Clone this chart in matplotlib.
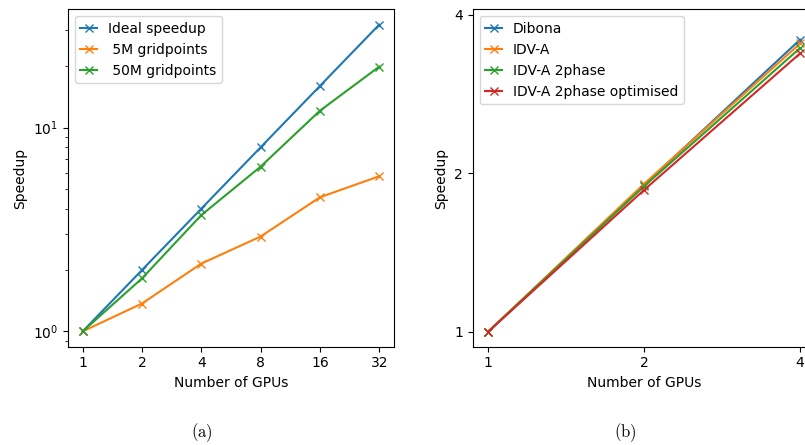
import matplotlib
matplotlib.use('Agg')
import matplotlib.pyplot as plt
from matplotlib.ticker import NullLocator, ScalarFormatter, FixedLocator

# (a) scaling with number of GPUs
gpus_a = [1, 2, 4, 8, 16, 32]
ideal = [1, 2, 4, 8, 16, 32]
grid_5m = [1, 1.37, 2.15, 2.92, 4.55, 5.77]
grid_50m = [1, 1.82, 3.72, 6.43, 12.1, 19.9]

# (b) strong scaling, different codes
gpus_b = [1, 2, 4]
dibona = [1, 1.90, 3.59]
idva = [1, 1.91, 3.53]
idva_2phase = [1, 1.89, 3.46]
idva_2phase_opt = [1, 1.86, 3.38]

fig = plt.figure(figsize=(8.05, 4.45), dpi=100)

# left panel
ax1 = fig.add_axes([0.0843, 0.2209, 0.4052, 0.7582])
ax1.plot(gpus_a, ideal, marker='x', label='Ideal speedup')
ax1.plot(gpus_a, grid_5m, marker='x', label=' 5M gridpoints')
ax1.plot(gpus_a, grid_50m, marker='x', label=' 50M gridpoints')
ax1.set_xscale('log', base=2)
ax1.set_yscale('log')
ax1.xaxis.set_major_locator(FixedLocator(gpus_a))
ax1.xaxis.set_major_formatter(ScalarFormatter())
ax1.xaxis.set_minor_locator(NullLocator())
ax1.set_xlabel('Number of GPUs')
ax1.set_ylabel('Speedup')
ax1.legend(loc='upper left', handlelength=1.2)

# right panel (cut off at the figure edge like the original)
ax2 = fig.add_axes([0.5872, 0.2209, 0.426, 0.7582])
ax2.plot(gpus_b, dibona, marker='x', label='Dibona')
ax2.plot(gpus_b, idva, marker='x', label='IDV-A')
ax2.plot(gpus_b, idva_2phase, marker='x', label='IDV-A 2phase')
ax2.plot(gpus_b, idva_2phase_opt, marker='x', label='IDV-A 2phase optimised')
ax2.set_xscale('log', base=2)
ax2.set_yscale('log', base=2)
ax2.xaxis.set_major_locator(FixedLocator(gpus_b))
ax2.xaxis.set_major_formatter(ScalarFormatter())
ax2.xaxis.set_minor_locator(NullLocator())
ax2.yaxis.set_major_locator(FixedLocator([1, 2, 4]))
ax2.yaxis.set_major_formatter(ScalarFormatter())
ax2.yaxis.set_minor_locator(NullLocator())
ax2.set_xlim(2 ** -0.1, 2 ** 2.1)
ax2.set_ylim(0.936, 4.10)
ax2.set_xlabel('Number of GPUs')
ax2.set_ylabel('Speedup')
ax2.legend(loc='upper left', handlelength=1.2)

fig.text(202 / 805, 1 - 433 / 445, r'$\mathrm{(a)}$', math_fontfamily='cm',
         fontsize=12, ha='center', va='center')
fig.text(625 / 805, 1 - 433 / 445, r'$\mathrm{(b)}$', math_fontfamily='cm',
         fontsize=12, ha='center', va='center')

fig.savefig('out.png', dpi=100)
